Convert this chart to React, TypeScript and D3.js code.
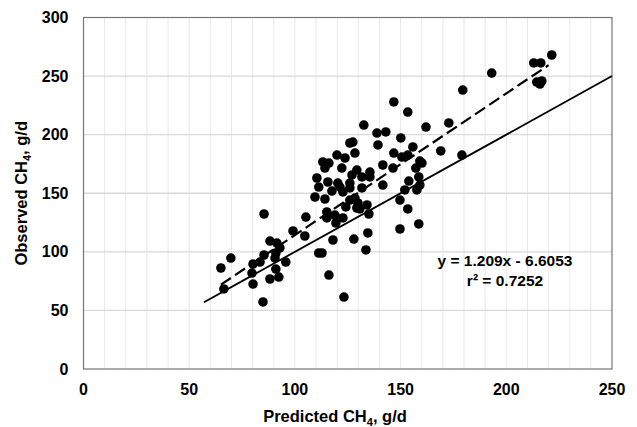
import React from 'react'
import * as d3 from 'd3'

const predicted = [
  65.0, 69.7, 66.4, 85.4, 80.2, 79.7, 80.2, 84.9, 85.4, 83.5, 88.2, 91.5, 91.0, 92.9, 90.6, 91.0,
  88.2, 92.4, 95.7, 99.1, 104.7, 105.2, 111.3, 112.8, 116.1, 123.2, 118.0, 119.4, 122.7, 115.1,
  124.1, 127.9, 111.3, 117.5, 121.3, 126.0, 131.7, 109.5, 114.2, 122.7, 126.0, 128.4, 129.8, 129.3,
  130.7, 134.1, 115.1, 118.9, 135.0, 134.5, 133.6, 132.6, 138.8, 139.3, 126.0, 127.4, 128.4, 119.9,
  123.7, 113.2, 116.1, 114.2, 122.2, 110.4, 115.6, 120.3, 129.3, 127.0, 131.7, 135.5, 135.5, 126.0,
  146.8, 153.4, 179.4, 162.0, 172.8, 143.0, 150.1, 146.8, 150.6, 153.4, 155.8, 169.0, 179.0, 159.1,
  160.1, 157.2, 141.6, 146.4, 141.6, 153.9, 158.6, 159.1, 152.0, 157.7, 149.7, 153.4, 149.7, 158.6,
  221.5, 213.0, 216.3, 214.4, 215.9, 216.8, 193.1,
]
const observed = [
  86.2, 94.7, 68.3, 132.3, 89.6, 81.9, 72.5, 57.2, 97.3, 91.3, 109.2, 107.5, 99.0, 103.3, 94.7, 85.3,
  76.8, 78.5, 91.3, 117.8, 113.5, 129.7, 99.0, 99.0, 80.2, 61.4, 110.1, 124.6, 128.9, 134.0,
  138.3, 110.9, 155.3, 151.9, 155.3, 154.5, 154.5, 146.8, 145.1, 151.1, 144.2, 145.9, 141.7, 137.4,
  136.6, 140.0, 128.9, 131.4, 132.3, 116.1, 101.6, 208.2, 201.4, 191.2, 192.9, 193.7, 184.3, 182.6,
  180.1, 176.7, 175.8, 171.5, 171.5, 163.0, 159.6, 158.7, 169.8, 165.6, 163.9, 168.1, 163.9, 158.7,
  227.9, 219.3, 238.1, 206.5, 210.0, 202.3, 197.2, 184.3, 180.9, 182.6, 189.5, 186.1, 182.6, 177.5,
  175.8, 171.5, 174.1, 171.5, 157.0, 160.4, 163.9, 157.0, 152.8, 152.8, 144.2, 136.6, 119.5, 123.8,
  268.0, 261.2, 261.2, 244.9, 243.2, 245.8, 252.6,
]
const xTicks = [0, 50, 100, 150, 200, 250]
const yTicks = [0, 50, 100, 150, 200, 250, 300]
const slope = 1.209
const intercept = -6.6053
const fitRange = [65, 220]
const oneToOneRange = [57, 250]

const W = 637
const H = 427
const m = { left: 83.5, right: 25, top: 17.5, bottom: 58 }

export default function App() {
  const x = d3.scaleLinear().domain([0, 250]).range([m.left, W - m.right])
  const y = d3.scaleLinear().domain([0, 300]).range([H - m.bottom, m.top])
  const font = 'Arial, "Liberation Sans", sans-serif'
  const line = d3.line<[number, number]>().x(d => x(d[0])).y(d => y(d[1]))

  const fit = fitRange.map(v => [v, slope * v + intercept] as [number, number])
  const one = oneToOneRange.map(v => [v, v] as [number, number])

  return (
    <svg width={W} height={H} style={{ position: 'absolute', left: 0, top: 0 }}>
      <rect width={W} height={H} fill="#fff" />
      {d3.range(10, 250, 10).map(v => (
        <line key={'vx' + v} x1={x(v)} x2={x(v)} y1={y(0)} y2={y(300)} stroke="#e8e8e8" />
      ))}
      {yTicks.slice(1, -1).map(v => (
        <line key={'hy' + v} x1={x(0)} x2={x(250)} y1={y(v)} y2={y(v)} stroke="#d9d9d9" strokeWidth={1.3} />
      ))}
      <rect x={x(0)} y={y(300)} width={x(250) - x(0)} height={y(0) - y(300)} fill="none" stroke="#767676" strokeWidth={1.2} />

      <path d={line(one) ?? ''} stroke="#000" strokeWidth={1.8} fill="none" />
      <path d={line(fit) ?? ''} stroke="#000" strokeWidth={2.2} fill="none" strokeDasharray="12 5" />

      {predicted.map((p, i) => (
        <circle key={i} cx={x(p)} cy={y(observed[i])} r={4.8} fill="#000" />
      ))}

      {xTicks.map(v => (
        <text key={'xt' + v} x={x(v)} y={y(0) + 26} textAnchor="middle" fontFamily={font} fontWeight="bold" fontSize={16}>
          {v}
        </text>
      ))}
      {yTicks.map(v => (
        <text key={'yt' + v} x={x(0) - 15} y={y(v) + 5.5} textAnchor="end" fontFamily={font} fontWeight="bold" fontSize={16}>
          {v}
        </text>
      ))}

      <text x={335} y={422} textAnchor="middle" fontFamily={font} fontWeight="bold" fontSize={16.5}>
        Predicted CH<tspan fontSize={11} dy={4}>4</tspan>
        <tspan dy={-4}>, g/d</tspan>
      </text>
      <text transform={`translate(27,${(y(0) + y(300)) / 2}) rotate(-90)`} textAnchor="middle" fontFamily={font} fontWeight="bold" fontSize={16.5}>
        Observed CH<tspan fontSize={11} dy={4}>4</tspan>
        <tspan dy={-4}>, g/d</tspan>
      </text>

      <text x={505} y={266} textAnchor="middle" fontFamily={font} fontWeight="bold" fontSize={15.5}>
        y = 1.209x - 6.6053
      </text>
      <text x={505} y={286} textAnchor="middle" fontFamily={font} fontWeight="bold" fontSize={15.5}>
        r² = 0.7252
      </text>
    </svg>
  )
}
